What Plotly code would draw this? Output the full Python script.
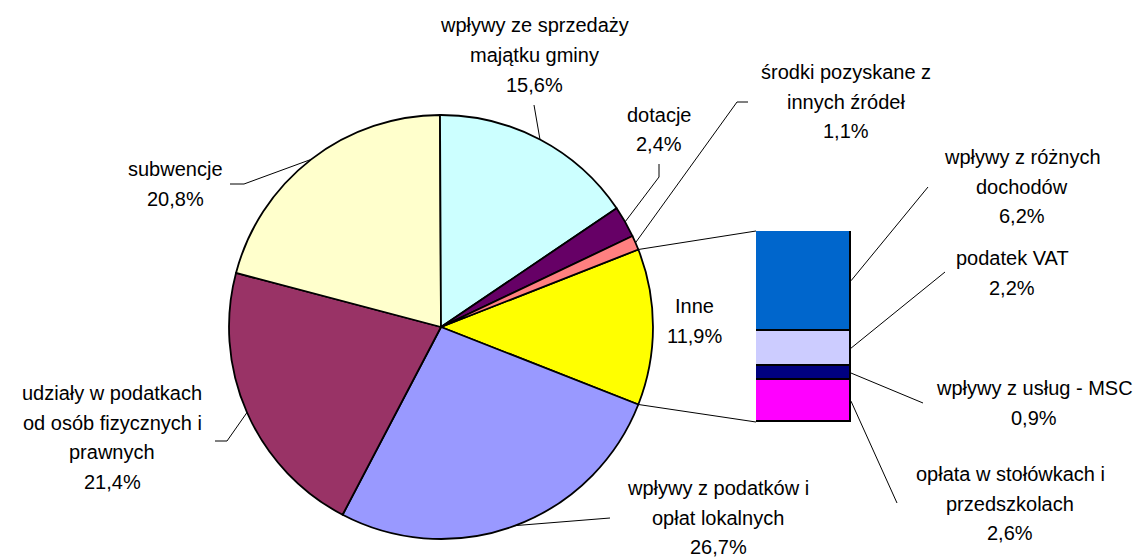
import math
import plotly.graph_objects as go

# ---------------- data ----------------
pie_labels = [
    "Inne",
    "wpływy z podatków i\nopłat lokalnych",
    "udziały w podatkach\nod osób fizycznych i\nprawnych",
    "subwencje",
    "wpływy ze sprzedaży\nmajątku gminy",
    "dotacje",
    "środki pozyskane z\ninnych źródeł",
]
pie_values = [11.9, 26.7, 21.4, 20.8, 15.6, 2.4, 1.1]
pie_colors = ["#FFFF00", "#9999FF", "#993366", "#FFFFCC", "#CCFFFF", "#660066", "#FF8080"]

bar_labels = [
    "wpływy z różnych\ndochodów",
    "podatek VAT",
    "wpływy z usług - MSC",
    "opłata w stołówkach i\nprzedszkolach",
]
bar_values = [6.2, 2.2, 0.9, 2.6]
bar_colors = ["#0066CC", "#CCCCFF", "#000080", "#FF00FF"]

# ---------------- layout geometry (page pixels) ----------------
OFF = 8                      # default page margin around the plot div
W, H = 1144 - OFF, 557 - OFF # figure size so it fills the window
CX, CY, R = 441, 327, 212
BX0, BX1, BY_TOP, BY_BOT = 756, 851, 231, 422
FONT = "Liberation Sans, Arial, sans-serif"
FS = 20
LINE_H = 29.5

pie_label_pos = [(694, 306), (718, 488), (112, 393), (175, 169), (534, 25.5), (659, 115), (846, 72)]
pie_leader_pts = [None, [(610, 518)], [(215, 441), (227, 441)], [(230, 184), (244, 184)],
                  [(534, 105)], [(659, 164), (659, 177)], [(748, 102), (737, 102)]]
bar_label_pos = [(1022, 157), (1012, 258), (1034, 388), (1010, 474)]
bar_leader_end = [(928, 187), (945, 272), (923, 403), (897, 503)]


def px(x):
    return (x - OFF) / W


def py(y):
    return 1 - (y - OFF) / H


def fmt(v):
    return f"{v:.1f}%".replace(".", ",")


total = sum(pie_values)
first = pie_values[0]
rotation = 90 - 180 * first / total  # centre the "Inne" slice at 3 o'clock


def edge(angle_deg):
    a = math.radians(angle_deg)
    return CX + R * math.sin(a), CY - R * math.cos(a)


fig = go.Figure()

fig.add_trace(go.Pie(
    values=pie_values,
    labels=[l.replace("\n", " ") for l in pie_labels],
    marker=dict(colors=pie_colors, line=dict(color="black", width=1.8)),
    sort=False,
    direction="clockwise",
    rotation=rotation,
    textinfo="none",
    hoverinfo="label+percent",
    showlegend=False,
    domain=dict(x=[px(CX - R), px(CX + R)], y=[py(CY + R), py(CY - R)]),
))

# stacked bar: plot bottom segment first
for lab, val, col in reversed(list(zip(bar_labels, bar_values, bar_colors))):
    fig.add_trace(go.Bar(
        x=[0], y=[val], width=1, name=lab.replace("\n", " "),
        marker=dict(color=col, line=dict(color="black", width=1.8)),
        showlegend=False, hoverinfo="name+y",
        xaxis="x", yaxis="y",
    ))

shapes = []
annotations = []


def line(p0, p1, w=1):
    shapes.append(dict(type="line", xref="paper", yref="paper",
                       x0=px(p0[0]), y0=py(p0[1]), x1=px(p1[0]), y1=py(p1[1]),
                       line=dict(color="black", width=w)))


def label(text, pos):
    lines = text.split("\n")
    for i, t in enumerate(lines):
        annotations.append(dict(text=t, x=px(pos[0]), y=py(pos[1] + i * LINE_H),
                                xref="paper", yref="paper", xanchor="center", yanchor="middle",
                                showarrow=False, font=dict(family=FONT, size=FS, color="black")))


# pie labels and leader lines
cum = 0
for i, (lab, val) in enumerate(zip(pie_labels, pie_values)):
    mid = rotation + 360 * (cum + val / 2) / total
    cum += val
    label(lab + "\n" + fmt(val), pie_label_pos[i])
    pts = pie_leader_pts[i]
    if pts:
        chain = pts + [edge(mid)]
        for a, b in zip(chain[:-1], chain[1:]):
            line(a, b)

# connectors between pie "Inne" slice and bar
line(edge(rotation), (BX0, BY_TOP))
line(edge(rotation + 360 * first / total), (BX0, BY_BOT))

# bar labels and leader lines
bar_total = sum(bar_values)
cum = 0
for i, (lab, val) in enumerate(zip(bar_labels, bar_values)):
    mid_frac = (cum + val / 2) / bar_total
    cum += val
    y_mid = BY_TOP + mid_frac * (BY_BOT - BY_TOP)
    label(lab + "\n" + fmt(val), bar_label_pos[i])
    line((BX1, y_mid), bar_leader_end[i])

fig.update_layout(
    width=W, height=H,
    margin=dict(l=0, r=0, t=0, b=0),
    paper_bgcolor="white", plot_bgcolor="rgba(0,0,0,0)",
    barmode="stack", bargap=0,
    xaxis=dict(domain=[px(BX0), px(BX1)], range=[-0.5, 0.5], visible=False, fixedrange=True),
    yaxis=dict(domain=[py(BY_BOT), py(BY_TOP)], range=[0, bar_total], visible=False, fixedrange=True),
    shapes=shapes,
    annotations=annotations,
    font=dict(family=FONT, size=FS, color="black"),
)

fig.write_html("out.html")
